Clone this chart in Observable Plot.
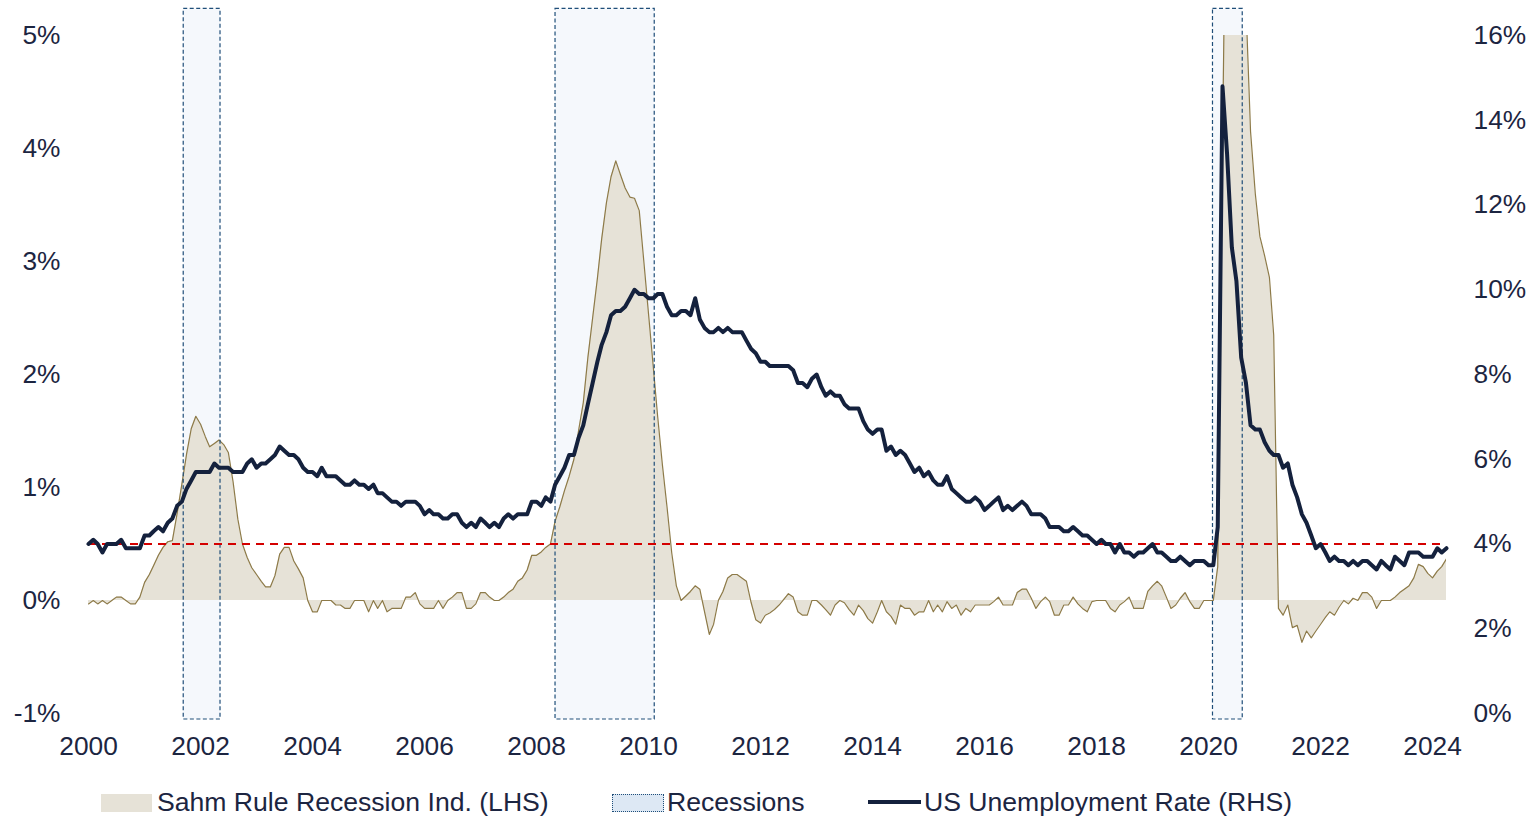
<!DOCTYPE html>
<html>
<head>
<meta charset="utf-8">
<script src="https://cdn.jsdelivr.net/npm/d3@7"></script>
<script src="https://cdn.jsdelivr.net/npm/@observablehq/plot@0.6"></script>
<style>
  html, body { margin: 0; padding: 0; background: #ffffff; }
  #wrap { position: relative; width: 1539px; height: 819px; font-family: "Liberation Sans", Arial, sans-serif; color: #1c2541; }
  #chart { position: absolute; left: 0; top: 0; }
  .lg { position: absolute; font-size: 26.6px; line-height: 30px; white-space: nowrap; }
  .sw { position: absolute; }
</style>
</head>
<body>
<div id="wrap">
  <div id="chart"></div>
  <div class="sw" style="left:101px; top:794px; width:51px; height:18px; background:#e6e2d7;"></div>
  <div class="lg" style="left:157px; top:787px;">Sahm Rule Recession Ind. (LHS)</div>
  <div class="sw" style="left:612px; top:794px; width:50px; height:16px; background:#dde8f4; border:1px dotted #1f4e79;"></div>
  <div class="lg" style="left:667px; top:787px;">Recessions</div>
  <div class="sw" style="left:868px; top:800px; width:53px; height:4px; background:#14213d;"></div>
  <div class="lg" style="left:924px; top:787px;">US Unemployment Rate (RHS)</div>
</div>
<script>
// Monthly series, Jan 2000 – Apr 2024
const startYear = 2000;
const unemployment = [
  4.0,4.1,4.0,3.8,4.0,4.0,4.0,4.1,3.9,3.9,3.9,3.9,
  4.2,4.2,4.3,4.4,4.3,4.5,4.6,4.9,5.0,5.3,5.5,5.7,
  5.7,5.7,5.7,5.9,5.8,5.8,5.8,5.7,5.7,5.7,5.9,6.0,
  5.8,5.9,5.9,6.0,6.1,6.3,6.2,6.1,6.1,6.0,5.8,5.7,
  5.7,5.6,5.8,5.6,5.6,5.6,5.5,5.4,5.4,5.5,5.4,5.4,
  5.3,5.4,5.2,5.2,5.1,5.0,5.0,4.9,5.0,5.0,5.0,4.9,
  4.7,4.8,4.7,4.7,4.6,4.6,4.7,4.7,4.5,4.4,4.5,4.4,
  4.6,4.5,4.4,4.5,4.4,4.6,4.7,4.6,4.7,4.7,4.7,5.0,
  5.0,4.9,5.1,5.0,5.4,5.6,5.8,6.1,6.1,6.5,6.8,7.3,
  7.8,8.3,8.7,9.0,9.4,9.5,9.5,9.6,9.8,10.0,9.9,9.9,
  9.8,9.8,9.9,9.9,9.6,9.4,9.4,9.5,9.5,9.4,9.8,9.3,
  9.1,9.0,9.0,9.1,9.0,9.1,9.0,9.0,9.0,8.8,8.6,8.5,
  8.3,8.3,8.2,8.2,8.2,8.2,8.2,8.1,7.8,7.8,7.7,7.9,
  8.0,7.7,7.5,7.6,7.5,7.5,7.3,7.2,7.2,7.2,6.9,6.7,
  6.6,6.7,6.7,6.2,6.3,6.1,6.2,6.1,5.9,5.7,5.8,5.6,
  5.7,5.5,5.4,5.4,5.6,5.3,5.2,5.1,5.0,5.0,5.1,5.0,
  4.8,4.9,5.0,5.1,4.8,4.9,4.8,4.9,5.0,4.9,4.7,4.7,
  4.7,4.6,4.4,4.4,4.4,4.3,4.3,4.4,4.3,4.2,4.2,4.1,
  4.0,4.1,4.0,4.0,3.8,4.0,3.8,3.8,3.7,3.8,3.8,3.9,
  4.0,3.8,3.8,3.7,3.6,3.6,3.7,3.6,3.5,3.6,3.6,3.6,
  3.5,3.5,4.4,14.8,13.2,11.0,10.2,8.4,7.8,6.8,6.7,6.7,
  6.4,6.2,6.1,6.1,5.8,5.9,5.4,5.1,4.7,4.5,4.2,3.9,
  4.0,3.8,3.6,3.7,3.6,3.6,3.5,3.6,3.5,3.6,3.6,3.5,
  3.4,3.6,3.5,3.4,3.7,3.6,3.5,3.8,3.8,3.8,3.7,3.7,
  3.7,3.9,3.8,3.9
];
const sahm = [
  -0.03,0,-0.03,0,-0.03,0,0.03,0.03,0,-0.03,-0.03,0.03,
  0.16,0.23,0.31,0.40,0.47,0.52,0.53,0.77,1.03,1.29,1.52,1.63,
  1.56,1.45,1.36,1.39,1.42,1.38,1.31,1.05,0.72,0.50,0.38,0.29,
  0.23,0.17,0.12,0.12,0.22,0.41,0.47,0.47,0.35,0.28,0.20,0.00,
  -0.10,-0.10,0,0,0,-0.04,-0.04,-0.07,-0.07,0,0,0,
  -0.10,0,-0.07,0,-0.10,-0.07,-0.07,-0.07,0.03,0.03,0.07,-0.03,
  -0.07,-0.07,-0.07,0,-0.07,0,0.03,0.07,0.07,-0.07,-0.07,-0.03,
  0.07,0.07,0.03,0,0,0.03,0.07,0.10,0.17,0.20,0.27,0.40,
  0.40,0.43,0.47,0.50,0.70,0.83,0.97,1.10,1.25,1.50,1.75,2.15,
  2.50,2.85,3.20,3.52,3.75,3.89,3.77,3.65,3.57,3.56,3.45,3.00,
  2.53,2.06,1.63,1.20,0.83,0.42,0.13,0,0.04,0.08,0.13,0.10,
  -0.10,-0.30,-0.21,0,0.08,0.20,0.23,0.23,0.20,0.17,-0.02,-0.17,
  -0.20,-0.13,-0.11,-0.08,-0.04,0.01,0.06,0.03,-0.10,-0.13,-0.13,0,
  0,-0.04,-0.08,-0.13,-0.04,0,-0.02,-0.08,-0.13,-0.04,-0.09,-0.16,
  -0.20,-0.10,0,-0.10,-0.14,-0.21,-0.04,-0.07,-0.07,-0.13,-0.10,-0.10,
  0,-0.10,-0.04,-0.10,-0.01,-0.07,-0.04,-0.13,-0.07,-0.10,-0.04,-0.04,
  -0.04,-0.04,-0.01,0.03,-0.04,-0.04,-0.04,0.07,0.10,0.10,0.02,-0.07,
  -0.01,0.03,-0.01,-0.13,-0.13,-0.04,-0.04,0.03,-0.03,-0.07,-0.10,-0.01,
  0,0,0,-0.07,-0.10,-0.04,-0.01,0.03,-0.07,-0.07,-0.07,0.08,
  0.13,0.17,0.13,0.03,-0.07,-0.04,0.02,0.07,-0.01,-0.07,-0.07,0,
  0,0,0.30,4.03,7.27,9.47,7.93,6.33,5.27,4.15,3.60,3.22,
  3.05,2.86,2.35,-0.07,-0.13,-0.04,-0.24,-0.22,-0.37,-0.27,-0.33,-0.27,
  -0.21,-0.15,-0.10,-0.13,-0.06,0,-0.03,0.02,0,0.07,0.07,0.03,
  -0.07,0,0,0,0.03,0.07,0.10,0.13,0.20,0.32,0.30,0.24,
  0.20,0.26,0.30,0.37
];
const recessionStarts = ["2001-09-13", "2008-05-04", "2020-01-30"];
const recessionEnds   = ["2002-05-11", "2010-02-10", "2020-08-11"];
const leftTicks  = [-1, 0, 1, 2, 3, 4, 5];
const rightTicks = [0, 2, 4, 6, 8, 10, 12, 14, 16];
const yearTicks  = [2000,2002,2004,2006,2008,2010,2012,2014,2016,2018,2020,2022,2024];
const sahmThreshold = 0.5;

// Left axis spans -1..5 (%), right axis spans 0..16 (%): map right onto left
const leftMin = -1, leftMax = 5, rightMax = 16;
const toLeft = r => leftMin + r * (leftMax - leftMin) / rightMax;
const toRight = v => (v - leftMin) * rightMax / (leftMax - leftMin);

const data = unemployment.map((u, i) => ({
  date: new Date(Date.UTC(startYear, i, 1)),
  unemp: u,
  sahm: sahm[i]
}));
const recessions = recessionStarts.map((s, i) => ({start: new Date(s), end: new Date(recessionEnds[i])}));

const rectTop = 5.235, rectBottom = -1.053;
const ink = "#1c2541";

const chart = Plot.plot({
  width: 1539,
  height: 770,
  marginLeft: 88,
  marginRight: 93,
  marginTop: 35,
  marginBottom: 57,
  style: {fontFamily: "Liberation Sans, Arial, sans-serif", fontSize: "26.3px", color: ink, background: "#ffffff", overflow: "visible"},
  x: {type: "utc", domain: [data[0].date, data[data.length - 1].date]},
  y: {domain: [leftMin, leftMax]},
  marks: [
    Plot.rect(recessions, {x1: "start", x2: "end", y1: rectBottom, y2: rectTop, fill: "#f5f8fc"}),
    Plot.areaY(data, {x: "date", y: "sahm", fill: "#e6e2d7", clip: true}),
    Plot.lineY(data, {x: "date", y: "sahm", stroke: "#8d7a48", strokeWidth: 1.2, clip: true}),
    Plot.rect(recessions, {x1: "start", x2: "end", y1: rectBottom, y2: rectTop, fill: "none", stroke: "#1f4e79", strokeWidth: 1.2, strokeDasharray: "4,2.5"}),
    Plot.ruleY([sahmThreshold], {stroke: "#d40000", strokeWidth: 2, strokeDasharray: "8,6"}),
    Plot.line(data, {x: "date", y: d => toLeft(d.unemp), stroke: "#14213d", strokeWidth: 4, strokeLinejoin: "round", strokeLinecap: "round"}),
    Plot.axisX({ticks: yearTicks.map(y => new Date(Date.UTC(y, 0, 1))), tickFormat: d => String(d.getUTCFullYear()), tickSize: 0, tickPadding: 23, label: null, fill: ink}),
    Plot.axisY({anchor: "left", ticks: leftTicks, tickFormat: d => d + "%", tickSize: 0, tickPadding: 28, label: null, fill: ink}),
    Plot.axisY({anchor: "right", ticks: rightTicks.map(toLeft), tickFormat: v => Math.round(toRight(v)) + "%", tickSize: 0, tickPadding: 27, label: null, fill: ink})
  ]
});
document.getElementById("chart").appendChild(chart);
</script>
</body>
</html>
